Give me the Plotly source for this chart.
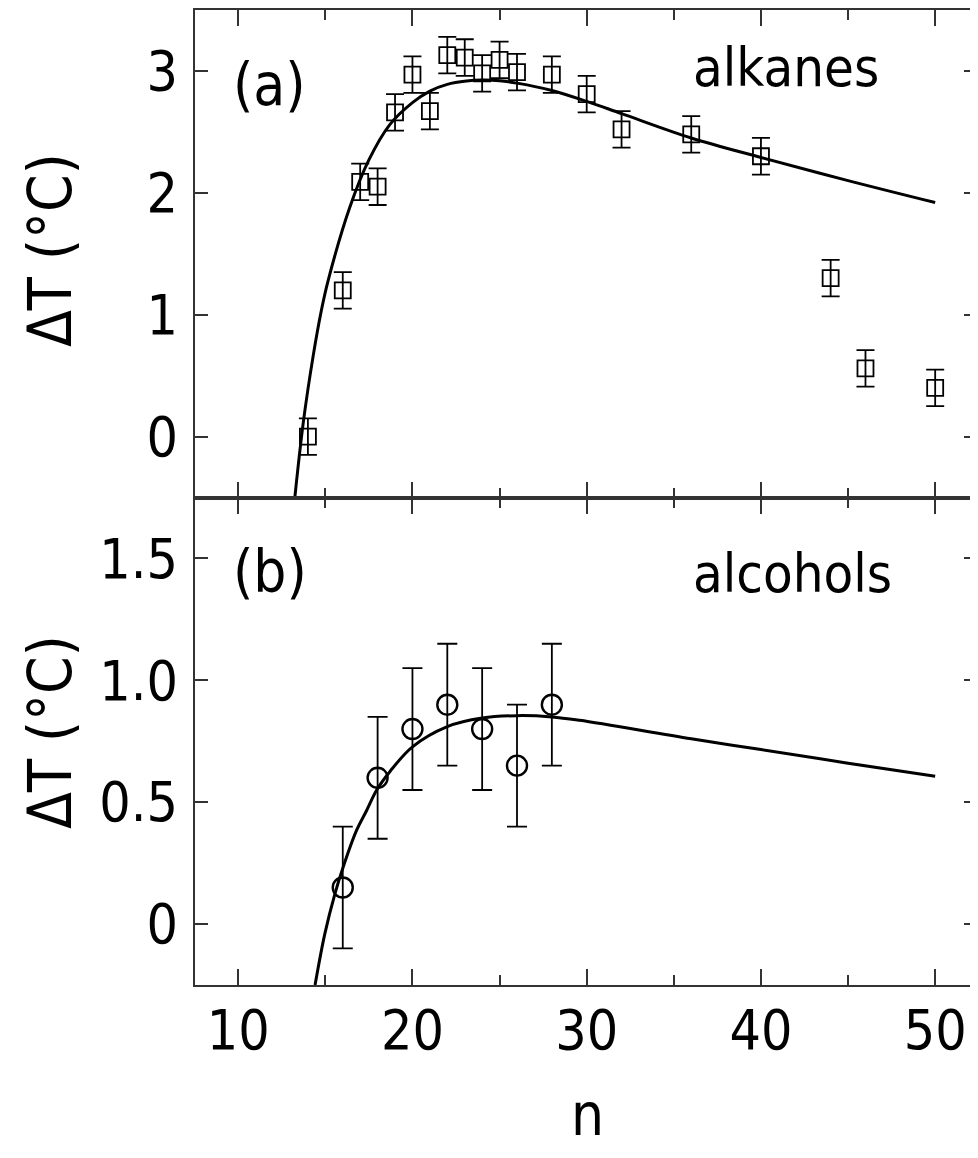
import plotly.graph_objects as go
from plotly.subplots import make_subplots

# ---------------- data ----------------
alkane_n = [14, 16, 17, 18, 19, 20, 21, 22, 23, 24, 25, 26, 28, 30, 32, 36, 40, 44, 46, 50]
alkane_dT = [0.0, 1.2, 2.09, 2.05, 2.66, 2.97, 2.67, 3.13, 3.11, 2.98, 3.09, 2.99,
             2.97, 2.81, 2.52, 2.48, 2.30, 1.30, 0.56, 0.40]
alkane_err = [0.15] * 20

alkane_fit_n = [13.25, 13.73, 14.3, 14.78, 15.16, 16.4, 17.5, 18.7, 20.0, 21.0, 22.0, 23.1,
                24.0, 25.0, 26.0, 28.0, 30.0, 32.0, 36.0, 40.0, 45.0, 50.0]
alkane_fit_dT = [-0.5, 0.11, 0.66, 1.04, 1.28, 1.88, 2.27, 2.56, 2.74, 2.835, 2.89, 2.917,
                 2.925, 2.92, 2.9, 2.84, 2.75, 2.65, 2.45, 2.29, 2.10, 1.92]

alcohol_n = [16, 18, 20, 22, 24, 26, 28]
alcohol_dT = [0.15, 0.60, 0.80, 0.90, 0.80, 0.65, 0.90]
alcohol_err = [0.25] * 7

alcohol_fit_n = [14.41, 14.97, 15.55, 16.02, 16.79, 17.37, 17.94, 18.7, 20.0, 22.0, 24.0,
                 26.0, 28.0, 29.6, 36.0, 40.0, 45.0, 50.0]
alcohol_fit_dT = [-0.25, -0.04, 0.124, 0.233, 0.384, 0.466, 0.549, 0.625, 0.727, 0.81, 0.845,
                  0.855, 0.85, 0.836, 0.76, 0.716, 0.66, 0.606]

x_tickvals = [10, 20, 30, 40, 50]
x_ticktext = ["10", "20", "30", "40", "50"]
top_tickvals = [0, 1, 2, 3]
top_ticktext = ["0", "1", "2", "3"]
bot_tickvals = [0, 0.5, 1.0, 1.5]
bot_ticktext = ["0", "0.5", "1.0", "1.5"]

y_title = "ΔT (°C)"
x_title = "n"
panel_labels = ["(a)", "(b)"]
series_names = ["alkanes", "alcohols"]

# ---------------- figure ----------------
FONT = "Noto Sans ExtraCondensed, Noto Sans Condensed, DejaVu Sans Condensed, DejaVu Sans, sans-serif"
INK = "black"
AX = "#333333"
TICK_SIZE = 55

fig = make_subplots(rows=2, cols=1, shared_xaxes=True, vertical_spacing=0.0)

fig.add_trace(go.Scatter(x=alkane_fit_n, y=alkane_fit_dT, mode="lines",
                         line=dict(color=INK, width=3, shape="spline", smoothing=1.0),
                         showlegend=False, hoverinfo="skip"), row=1, col=1)
fig.add_trace(go.Scatter(x=alkane_n, y=alkane_dT, mode="markers",
                         marker=dict(symbol="square-open", size=16, color=INK,
                                     line=dict(width=1.8, color=INK)),
                         error_y=dict(type="data", array=alkane_err, visible=True,
                                      color=INK, thickness=1.8, width=9),
                         showlegend=False), row=1, col=1)

fig.add_trace(go.Scatter(x=alcohol_fit_n, y=alcohol_fit_dT, mode="lines",
                         line=dict(color=INK, width=3, shape="spline", smoothing=1.0),
                         showlegend=False, hoverinfo="skip"), row=2, col=1)
fig.add_trace(go.Scatter(x=alcohol_n, y=alcohol_dT, mode="markers",
                         marker=dict(symbol="circle-open", size=20, color=INK,
                                     line=dict(width=2.4, color=INK)),
                         error_y=dict(type="data", array=alcohol_err, visible=True,
                                      color=INK, thickness=1.8, width=10),
                         showlegend=False), row=2, col=1)

xcommon = dict(range=[7.52, 52.4], showgrid=False, zeroline=False,
               showline=True, linecolor=AX, linewidth=2, mirror="ticks",
               ticks="inside", ticklen=16, tickwidth=2, tickcolor=AX,
               tickvals=x_tickvals, ticktext=x_ticktext,
               minor=dict(ticks="inside", dtick=5, tick0=0, ticklen=10,
                          tickwidth=2, tickcolor=AX))
fig.update_xaxes(**xcommon)
fig.update_xaxes(showticklabels=False, row=1, col=1)
fig.update_xaxes(showticklabels=True, tickfont=dict(family=FONT, size=TICK_SIZE, color=INK),
                 ticklabelstandoff=-4, row=2, col=1)

ycommon = dict(showgrid=False, zeroline=False, showline=True, linecolor=AX,
               linewidth=2, mirror="ticks", ticks="inside", ticklen=13,
               tickwidth=2, tickcolor=AX, ticklabelstandoff=4,
               tickfont=dict(family=FONT, size=TICK_SIZE, color=INK))
fig.update_yaxes(**ycommon)
fig.update_yaxes(range=[-0.5, 3.5], tickvals=top_tickvals, ticktext=top_ticktext,
                 row=1, col=1)
fig.update_yaxes(range=[-0.25, 1.75], tickvals=bot_tickvals, ticktext=bot_ticktext,
                 row=2, col=1)

# page has an 8px body margin: figure is 970x1142 so the plot area sits at
# page x 195..977, y 10..985
fig.update_layout(
    width=970, height=1142,
    margin=dict(l=187, r=1, t=2, b=165, autoexpand=False),
    paper_bgcolor="white", plot_bgcolor="white",
    font=dict(family=FONT, color=INK),
    showlegend=False,
)

title_font = dict(family=FONT, size=60, color=INK)
fig.add_annotation(x=-0.1854, y=0.7538, xref="paper", yref="paper", text=y_title,
                   textangle=-90, showarrow=False, font=title_font,
                   xanchor="center", yanchor="middle")
fig.add_annotation(x=-0.1854, y=0.2595, xref="paper", yref="paper", text=y_title,
                   textangle=-90, showarrow=False, font=title_font,
                   xanchor="center", yanchor="middle")
fig.add_annotation(x=0.5013, y=-0.1333, xref="paper", yref="paper", text=x_title,
                   showarrow=False, font=dict(family=FONT, size=58, color=INK),
                   xanchor="center", yanchor="middle")

lab_font = dict(family=FONT, size=58, color=INK)
name_font = dict(family=FONT, size=54, color=INK)
fig.add_annotation(x=11.82, y=2.886, xref="x", yref="y", text=panel_labels[0], showarrow=False,
                   font=lab_font, xanchor="center", yanchor="middle")
fig.add_annotation(x=41.42, y=3.025, xref="x", yref="y", text=series_names[0], showarrow=False,
                   font=name_font, xanchor="center", yanchor="middle")
fig.add_annotation(x=11.82, y=1.444, xref="x2", yref="y2", text=panel_labels[1], showarrow=False,
                   font=lab_font, xanchor="center", yanchor="middle")
fig.add_annotation(x=41.8, y=1.44, xref="x2", yref="y2", text=series_names[1], showarrow=False,
                   font=name_font, xanchor="center", yanchor="middle")

fig.write_html("out.html")
